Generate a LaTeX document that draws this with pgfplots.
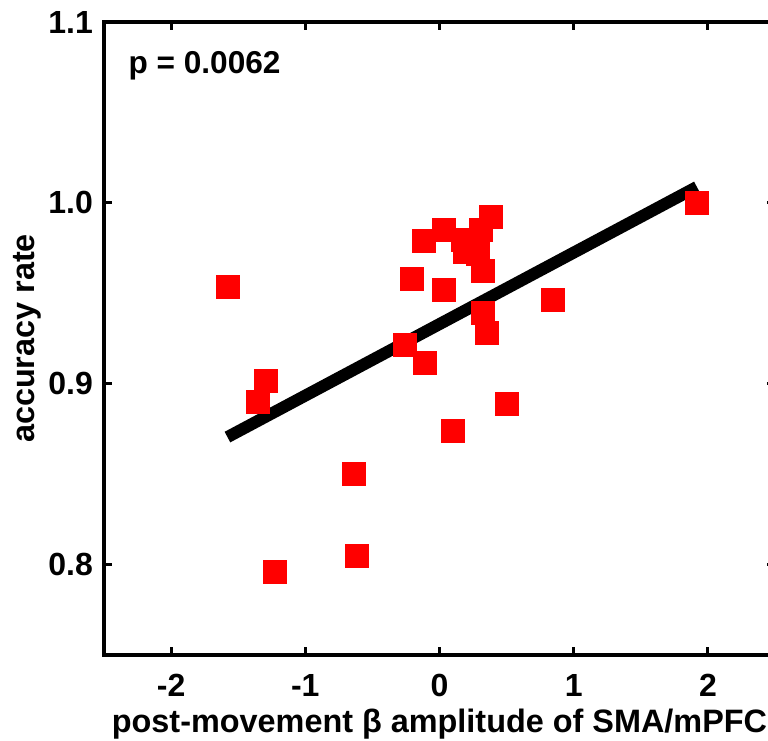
\documentclass[border=0pt]{standalone}
\usepackage{pgfplots}
\pgfplotsset{compat=1.18}
\usepackage{fontspec}
\setmainfont{Liberation Sans}
\begin{document}
\begin{tikzpicture}
\begin{axis}[
  scale only axis,
  width=335.5pt, height=316.5pt,
  xmin=-2.5, xmax=2.5, ymin=0.75, ymax=1.1,
  xtick={-2,-1,0,1,2}, xticklabels={-2,-1,0,1,2},
  ytick={0.8,0.9,1.0,1.1}, yticklabels={0.8,0.9,1.0,1.1},
  axis line style={line width=2pt, black},
  major tick length=4pt,
  tick style={line width=1.5pt, black},
  tick align=inside,
  ticklabel style={font=\fontsize{16}{18}\selectfont\bfseries},
  label style={font=\fontsize{16.2}{19}\selectfont\bfseries},
  xlabel={post-movement β amplitude of SMA/mPFC},
  ylabel={accuracy rate},
  xlabel style={at={(axis description cs:0.5,0)}, anchor=center, yshift=-34.5pt},
  ylabel style={at={(axis description cs:0,0.5)}, anchor=center, xshift=0pt, yshift=38.5pt},
  xticklabel style={yshift=-6pt},
  yticklabel style={xshift=-2pt},
  clip=false,
]
\addplot[only marks, mark=square*, mark size=5.75pt, color=red,
  mark options={fill=red, draw=red, rounded corners=1pt}] coordinates {
(-1.58,0.9536) (-1.293,0.9013) (-1.351,0.8897) (-0.261,0.9215) (-0.207,0.958)
(-0.112,0.9114) (-0.118,0.979) (0.032,0.985) (0.174,0.9796) (0.187,0.973)
(0.286,0.972) (0.306,0.985) (0.386,0.992) (0.323,0.9624) (0.032,0.952)
(0.846,0.9464) (0.323,0.939) (0.356,0.928) (0.505,0.889) (0.097,0.874)
(-0.639,0.850) (-0.617,0.805) (-1.226,0.796) (1.918,1.000)
};
\addplot[line width=6pt, black] coordinates {(-1.58,0.8705) (1.918,1.0088)};
\node[anchor=west, font=\fontsize{15.8}{18}\selectfont\bfseries, inner sep=0pt] at (axis cs:-2.32,1.076) {p = 0.0062};
\end{axis}
\pgfresetboundingbox
\useasboundingbox ([xshift=-52pt,yshift=-42.5pt]current axis.south west) rectangle ([xshift=-3.5pt,yshift=11pt]current axis.north east);
\end{tikzpicture}
\end{document}
